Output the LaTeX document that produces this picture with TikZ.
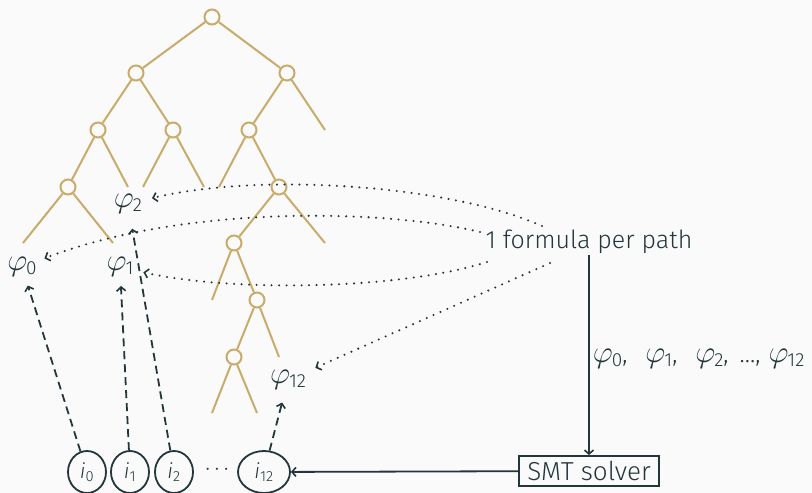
\documentclass[tikz,border=0pt]{standalone}
\usepackage{fontspec}
\setmainfont{Fira Sans}[UprightFont={* Light},ItalicFont={* Light Italic}]
\usetikzlibrary{arrows.meta,shapes.geometric}
\definecolor{dk}{HTML}{23373B}
\definecolor{gd}{HTML}{C9AB6B}
\definecolor{bg}{HTML}{FAFAFA}
\newcommand\phiv[1]{\scalebox{1.25}{\fontsize{24.88}{26}\selectfont$\varphi$}\kern-1pt\raisebox{-4pt}{\fontsize{19}{20}\selectfont #1}}
\begin{document}
\begin{tikzpicture}[x=1pt,y=-1pt,
  tn/.style={circle,draw=gd,line width=2pt,minimum size=15pt,inner sep=0pt},
  te/.style={draw=gd,line width=2pt},
  lab/.style={text=dk,font=\fontsize{25}{28}\selectfont,inner sep=1pt},
  inp/.style={ellipse,draw=dk,line width=1.8pt,minimum width=38pt,minimum height=42pt,inner sep=0pt,text=dk,font=\fontsize{21}{24}\selectfont},
  dotarr/.style={draw=dk,line width=2.3pt,line cap=round,dash pattern=on 0pt off 7.5pt,-{Straight Barb[length=4pt,width=9pt,line width=1.6pt]}},
  dasharr/.style={draw=dk,line width=1.8pt,dash pattern=on 8pt off 5pt,-{Straight Barb[length=4pt,width=9pt,line width=1.6pt]}},
  solarr/.style={draw=dk,line width=1.8pt,-{Straight Barb[length=4pt,width=9pt,line width=1.6pt]}}]
\fill[bg] (0,0) rectangle (812,493);
\useasboundingbox (0,0) rectangle (812,493);
% tree
\node[tn] (n0) at (212,17) {};
\node[tn] (n1) at (136,73) {};
\node[tn] (n2) at (287,73) {};
\node[tn] (n3) at (98,130) {};
\node[tn] (n4) at (173,130) {};
\node[tn] (n5) at (249,130) {};
\coordinate (l1) at (325,130);
\node[tn] (n6) at (68,187) {};
\coordinate (l2) at (128,187);
\coordinate (l3) at (143,187);
\coordinate (l4) at (204,187);
\coordinate (l5) at (219,187);
\node[tn] (n7) at (279,187) {};
\coordinate (l6) at (23,243);
\coordinate (l7) at (113,243);
\node[tn] (n8) at (234,243) {};
\coordinate (l8) at (325,243);
\coordinate (l9) at (212,300);
\node[tn] (n9) at (257,300) {};
\node[tn] (n10) at (234,357) {};
\coordinate (l10) at (279,357);
\coordinate (l11) at (212,413);
\coordinate (l12) at (257,413);
\path[te] (n0)--(n1) (n0)--(n2) (n1)--(n3) (n1)--(n4) (n2)--(n5) (n2)--(l1)
  (n3)--(n6) (n3)--(l2) (n4)--(l3) (n4)--(l4) (n5)--(l5) (n5)--(n7)
  (n6)--(l6) (n6)--(l7) (n7)--(n8) (n7)--(l8) (n8)--(l9) (n8)--(n9)
  (n9)--(n10) (n9)--(l10) (n10)--(l11) (n10)--(l12);
% formulas
\node[lab] (p2) at (128,204) {\phiv{2}};
\node[lab] (p0) at (22,267) {\phiv{0}};
\node[lab] (p1) at (120,267) {\phiv{1}};
\node[lab] (p12) at (288,380) {\phiv{12}};
\node[lab] (f) at (589,242) {1 formula per path};
\coordinate (fa) at (542,226);
\coordinate (fb) at (480,232);
\coordinate (fc) at (487,262);
\coordinate (fd) at (550,263);
\draw[dotarr,shorten >=9pt] (fa) .. controls (450,185) and (260,172) .. (p2);
\draw[dotarr,shorten >=7pt] (fb) .. controls (380,208) and (180,206) .. (p0);
\draw[dotarr,shorten >=9pt] (fc) .. controls (400,290) and (230,292) .. (p1);
\draw[dotarr,shorten >=9pt] (fd) -- (p12);
% inputs
\node[inp] (i0) at (87,472) {\textit{i}\textsubscript{0}};
\node[inp] (i1) at (130,472) {\textit{i}\textsubscript{1}};
\node[inp] (i2) at (174,472) {\textit{i}\textsubscript{2}};
\node[inp,minimum width=52pt] (i12) at (264,472) {\textit{i}\textsubscript{12}};
\node[text=dk,font=\fontsize{20}{24}\selectfont] (dots) at (217,470) {$\cdots$};
\draw[dasharr,shorten >=8pt] (i0) -- (p0);
\draw[dasharr,shorten >=8pt] (i1) -- (p1);
\draw[dasharr,shorten >=14pt] (i2) -- (p2);
\draw[dasharr,shorten >=12pt] (i12) -- (p12);
% solver
\node[draw=dk,line width=1.8pt,text=dk,font=\fontsize{26}{28}\selectfont,inner sep=2pt,minimum width=140pt,minimum height=30pt] (smt) at (589,471) {SMT solver};
\draw[solarr] (f) -- node[right,lab,xshift=2pt,yshift=-4pt] {\phiv{0},\hspace{18pt}\phiv{1},\hspace{18pt}\phiv{2},\hspace{11pt}…,\hspace{8pt}\phiv{12}} (smt);
\draw[solarr] (smt) -- (i12);
\end{tikzpicture}
\end{document}
